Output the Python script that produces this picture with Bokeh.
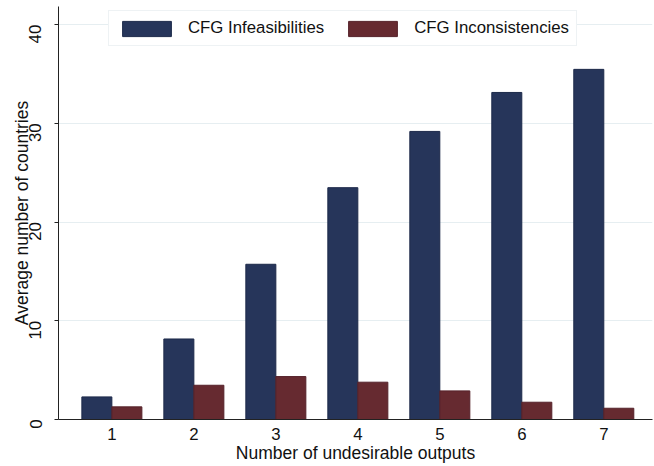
from bokeh.plotting import figure
from bokeh.models import Range1d, FixedTicker, Legend, LegendItem, ColumnDataSource
from bokeh.embed import file_html
from bokeh.resources import INLINE
import math

groups = [1, 2, 3, 4, 5, 6, 7]
infeasibilities = [2.29, 8.16, 15.73, 23.49, 29.19, 33.14, 35.48]
inconsistencies = [1.28, 3.47, 4.35, 3.78, 2.90, 1.75, 1.14]
series_names = ["CFG Infeasibilities", "CFG Inconsistencies"]
y_ticks = [0, 10, 20, 30, 40]

FONT = "Liberation Sans"
NAVY = "#26355a"
MAROON = "#662a30"
BW = 0.366

src = ColumnDataSource(dict(
    x_inf=[g - BW / 2 for g in groups],
    x_inc=[g + BW / 2 for g in groups],
    inf=infeasibilities,
    inc=inconsistencies,
))

p = figure(width=654, height=466, output_backend="svg", toolbar_location=None,
           x_range=Range1d(0.349, 7.594), y_range=Range1d(0, 41.85),
           min_border_left=58, min_border_right=2, min_border_top=6, min_border_bottom=47)
p.outline_line_color = None
p.background_fill_color = "white"
p.border_fill_color = "white"

r1 = p.vbar(x="x_inf", top="inf", width=BW, bottom=0, source=src,
            fill_color=NAVY, line_color="#1d2a4a", line_width=1)
r2 = p.vbar(x="x_inc", top="inc", width=BW, bottom=0, source=src,
            fill_color=MAROON, line_color="#55222a", line_width=1)

# axes
p.xaxis.ticker = FixedTicker(ticks=groups)
p.xaxis.major_tick_out = 0
p.xaxis.major_tick_in = 0
p.xaxis.minor_tick_out = 0
p.xaxis.minor_tick_in = 0
p.xaxis.axis_line_color = "#222222"
p.xaxis.axis_line_width = 1
p.xaxis.major_label_text_font = FONT
p.xaxis.major_label_text_font_size = "16.8px"
p.xaxis.major_label_text_color = "#111111"
p.xaxis.major_label_standoff = 8
p.xaxis.axis_label = "Number of undesirable outputs"
p.xaxis.axis_label_text_font = FONT
p.xaxis.axis_label_text_font_size = "17.5px"
p.xaxis.axis_label_text_font_style = "normal"
p.xaxis.axis_label_text_color = "#111111"
p.xaxis.axis_label_standoff = 0

p.yaxis.ticker = FixedTicker(ticks=y_ticks)
p.yaxis.major_tick_out = 4
p.yaxis.major_tick_in = 0
p.yaxis.minor_tick_out = 0
p.yaxis.minor_tick_in = 0
p.yaxis.axis_line_color = "#222222"
p.yaxis.major_tick_line_color = "#222222"
p.yaxis.major_label_orientation = math.pi / 2
p.yaxis.major_label_text_font = FONT
p.yaxis.major_label_text_font_size = "16.8px"
p.yaxis.major_label_text_color = "#111111"
p.yaxis.major_label_standoff = 19
p.yaxis.axis_label = "Average number of countries"
p.yaxis.axis_label_text_font = FONT
p.yaxis.axis_label_text_font_size = "17.5px"
p.yaxis.axis_label_text_font_style = "normal"
p.yaxis.axis_label_text_color = "#111111"
p.yaxis.axis_label_standoff = -11

p.xgrid.grid_line_color = None
p.ygrid.ticker = FixedTicker(ticks=[10, 20, 30, 40])
p.ygrid.grid_line_color = "#e6eef1"
p.ygrid.grid_line_width = 1.2

legend = Legend(items=[LegendItem(label=series_names[0], renderers=[r1]),
                       LegendItem(label=series_names[1], renderers=[r2])],
                orientation="horizontal", location=(50, 373))
legend.label_text_font = FONT
legend.label_text_font_size = "16.8px"
legend.label_text_color = "#111111"
legend.glyph_width = 61
legend.glyph_height = 19
legend.label_height = 17
legend.label_standoff = 11
legend.spacing = 18
legend.padding = 7
legend.margin = 0
legend.border_line_color = "#dde6ea"
legend.border_line_width = 1
legend.background_fill_color = "white"
legend.background_fill_alpha = 1
p.add_layout(legend)

open("out.html", "w").write(file_html(p, INLINE))
